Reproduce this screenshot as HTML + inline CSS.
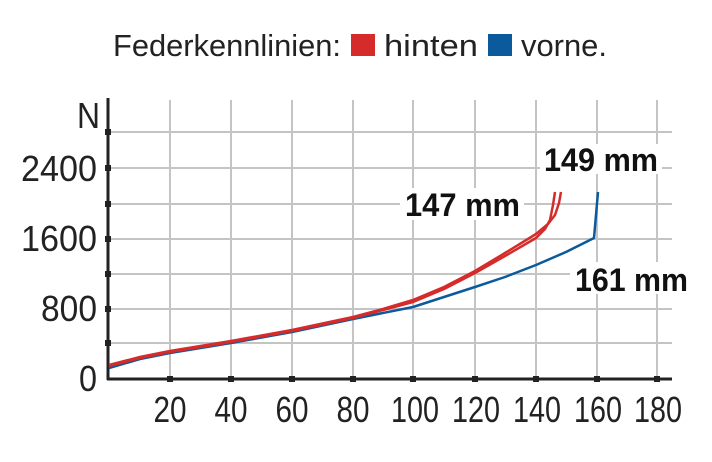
<!DOCTYPE html>
<html><head><style>body{margin:0;background:#fff}svg{display:block}</style></head><body>
<svg width="712" height="462" xmlns="http://www.w3.org/2000/svg" font-family="'Liberation Sans',sans-serif">
<text x="113" y="56" font-size="31" textLength="228" lengthAdjust="spacingAndGlyphs" fill="#222">Federkennlinien:</text>
<rect x="351" y="34" width="24" height="22" fill="#d52b2b"/>
<text x="384" y="56" font-size="31" textLength="94" lengthAdjust="spacingAndGlyphs" fill="#222">hinten</text>
<rect x="488" y="34" width="24" height="22" fill="#0a5a9c"/>
<text x="521" y="56" font-size="31" textLength="86" lengthAdjust="spacingAndGlyphs" fill="#222">vorne.</text>
<g stroke="#c4c4c4" stroke-width="2">
<line x1="170" y1="100" x2="170" y2="379"/><line x1="231" y1="100" x2="231" y2="379"/><line x1="292" y1="100" x2="292" y2="379"/><line x1="353" y1="100" x2="353" y2="379"/><line x1="413" y1="100" x2="413" y2="379"/><line x1="475" y1="100" x2="475" y2="379"/><line x1="536" y1="100" x2="536" y2="379"/><line x1="597" y1="100" x2="597" y2="379"/><line x1="657" y1="100" x2="657" y2="379"/>
<line x1="107" y1="132" x2="672" y2="132"/><line x1="107" y1="168" x2="672" y2="168"/><line x1="107" y1="204" x2="672" y2="204"/><line x1="107" y1="239" x2="672" y2="239"/><line x1="107" y1="274" x2="672" y2="274"/><line x1="107" y1="309" x2="672" y2="309"/><line x1="107" y1="343" x2="672" y2="343"/>
</g>
<g stroke="#222" stroke-width="3"><line x1="108" y1="98" x2="108" y2="380"/><line x1="107" y1="379" x2="672" y2="379"/></g>
<g fill="#222">
<rect x="105" y="129" width="6" height="6"/><rect x="105" y="165" width="6" height="6"/><rect x="105" y="201" width="6" height="6"/><rect x="105" y="236" width="6" height="6"/><rect x="105" y="271" width="6" height="6"/><rect x="105" y="306" width="6" height="6"/><rect x="105" y="340" width="6" height="6"/>
<rect x="167" y="376" width="6" height="6"/><rect x="228" y="376" width="6" height="6"/><rect x="289" y="376" width="6" height="6"/><rect x="350" y="376" width="6" height="6"/><rect x="410" y="376" width="6" height="6"/><rect x="472" y="376" width="6" height="6"/><rect x="533" y="376" width="6" height="6"/><rect x="594" y="376" width="6" height="6"/><rect x="654" y="376" width="6" height="6"/>
</g>
<g font-size="36" fill="#222" text-anchor="end">
<text x="100" y="128" textLength="23" lengthAdjust="spacingAndGlyphs">N</text>
<text x="97" y="181" textLength="76" lengthAdjust="spacingAndGlyphs">2400</text>
<text x="97" y="251" textLength="76" lengthAdjust="spacingAndGlyphs">1600</text>
<text x="97" y="321" textLength="56" lengthAdjust="spacingAndGlyphs">800</text>
<text x="97" y="391" textLength="18" lengthAdjust="spacingAndGlyphs">0</text>
</g>
<g font-size="36" fill="#222" text-anchor="middle">
<text x="170" y="422" textLength="33" lengthAdjust="spacingAndGlyphs">20</text>
<text x="231" y="422" textLength="33" lengthAdjust="spacingAndGlyphs">40</text>
<text x="292" y="422" textLength="33" lengthAdjust="spacingAndGlyphs">60</text>
<text x="353" y="422" textLength="33" lengthAdjust="spacingAndGlyphs">80</text>
<text x="415" y="422" textLength="48" lengthAdjust="spacingAndGlyphs">100</text>
<text x="476" y="422" textLength="48" lengthAdjust="spacingAndGlyphs">120</text>
<text x="537" y="422" textLength="48" lengthAdjust="spacingAndGlyphs">140</text>
<text x="598" y="422" textLength="48" lengthAdjust="spacingAndGlyphs">160</text>
<text x="658" y="422" textLength="48" lengthAdjust="spacingAndGlyphs">180</text>
</g>
<g fill="none" stroke-width="2.5" stroke-linejoin="round">
<path d="M109,368 L140,359 L170,353 L231,343 L292,332 L353,319 L413,307 L444,297 L475,287 L505,277 L536,265 L566,252 L594,238 L598,192" stroke="#0a5a9c"/>
<path d="M109,366 L140,358 L170,352 L231,342 L292,331 L353,318 L383,310 L413,302 L444,289 L475,273 L505,256 L536,238 L545,229 L550,220 L553,205 L555,192" stroke="#d52b2b"/>
<path d="M109,365 L140,357 L170,351 L231,341 L292,330 L353,317 L383,309 L413,300 L444,287 L475,271 L505,253 L536,234 L548,224 L555,215 L559,203 L561,192" stroke="#d52b2b"/>
</g>
<g font-size="32" font-weight="bold" fill="#111">
<rect x="540" y="144" width="122" height="30" fill="#fff"/>
<text x="544" y="171" textLength="114" lengthAdjust="spacingAndGlyphs">149 mm</text>
<rect x="400" y="188" width="124" height="32" fill="#fff"/>
<text x="405" y="216" textLength="115" lengthAdjust="spacingAndGlyphs">147 mm</text>
<rect x="570" y="262" width="124" height="32" fill="#fff"/>
<text x="575" y="291" textLength="113" lengthAdjust="spacingAndGlyphs">161 mm</text>
</g>
</svg>
</body></html>
